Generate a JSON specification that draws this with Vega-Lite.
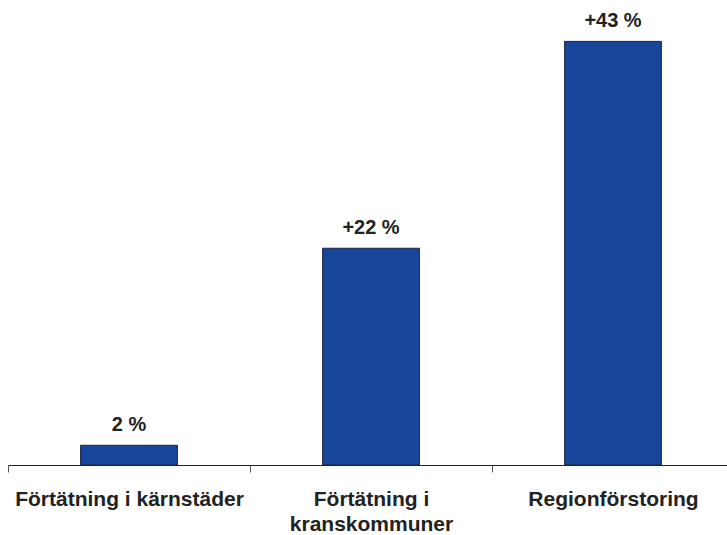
{
  "$schema": "https://vega.github.io/schema/vega-lite/v6.json",
  "width": 719,
  "height": 465,
  "autosize": {"type": "none"},
  "padding": {"left": 8, "top": 0, "right": 0, "bottom": 70},
  "background": "white",
  "config": {"view": {"stroke": null}, "font": "Liberation Sans"},
  "data": {
    "values": [
      {"kategori": "Förtätning i kärnstäder", "andel": 2, "etikett": "2 %"},
      {"kategori": "Förtätning i kranskommuner", "andel": 22, "etikett": "+22 %"},
      {"kategori": "Regionförstoring", "andel": 43, "etikett": "+43 %"}
    ]
  },
  "encoding": {
    "x": {
      "field": "kategori",
      "type": "nominal",
      "sort": null,
      "scale": {"paddingInner": 0.6, "paddingOuter": 0.3, "range": [0, 726]},
      "axis": {
        "title": null,
        "labelAngle": 0,
        "ticks": true,
        "tickBand": "center",
        "tickOffset": -121,
        "labelOffset": 121,
        "domainColor": "#222222",
        "tickColor": "#555555",
        "tickWidth": 1,
        "tickSize": 7,
        "labelFont": "Liberation Sans",
        "labelFontSize": 21,
        "labelFontWeight": "bold",
        "labelColor": "#222222",
        "labelPadding": 16,
        "labelLineHeight": 25,
        "labelBaseline": "top",
        "labelLimit": 0,
        "labelOverlap": false,
        "labelExpr": "datum.label == 'Förtätning i kranskommuner' ? ['Förtätning i', 'kranskommuner'] : datum.label"
      }
    },
    "y": {
      "field": "andel",
      "type": "quantitative",
      "scale": {"domain": [0, 47.2], "nice": false},
      "axis": null
    }
  },
  "layer": [
    {
      "mark": {"type": "bar", "fill": "#17469b", "stroke": "#1c2440", "strokeWidth": 1, "clip": false}
    },
    {
      "mark": {"type": "text", "dy": -14, "font": "Liberation Sans", "fontSize": 20, "fontWeight": "bold", "color": "#222222", "baseline": "alphabetic"},
      "encoding": {"text": {"field": "etikett"}}
    }
  ]
}
